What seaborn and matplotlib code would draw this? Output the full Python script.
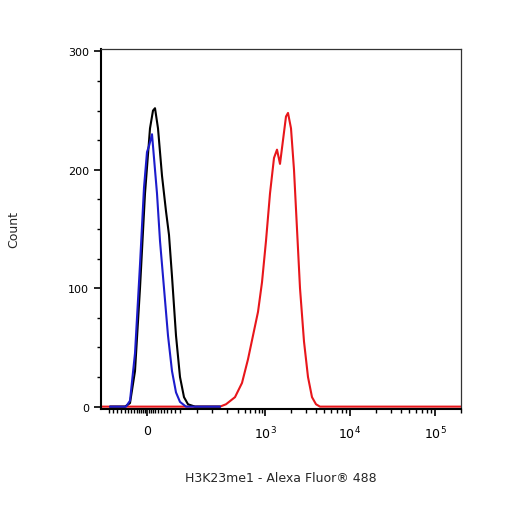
import matplotlib
matplotlib.use("Agg")
import matplotlib.pyplot as plt
import seaborn as sns
import numpy as np
import pandas as pd

# x in display channel units (0..360); tick positions define the biexponential-like scale
black_x = [9,24,29,34,39,44,49,52,54,57,61,65,68,71,75,79,83,87,94,119]
black_y = [0,0,3,30,100,180,235,250,252,235,195,165,145,110,60,25,8,2,0,0]
blue_x = [9,25,29,34,39,43,46,48,51,53,56,59,63,67,71,75,79,85,119]
blue_y = [0,0,5,45,120,185,215,220,230,210,180,140,100,60,30,12,4,0,0]
red_x = [0,119,125,134,141,147,152,157,161,165,169,173,176,179,182,185,187,190,193,196,199,203,207,211,215,219,360]
red_y = [0,0,2,8,20,40,60,80,105,140,180,210,217,205,225,245,248,235,200,150,100,55,25,8,2,0,0]

major_pos = [46, 164, 249, 334]
major_lab = ["0", r"$10^3$", r"$10^4$", r"$10^5$"]
minor_pos = [8,12,16,20,24,27,30,33,36,38,40,42,44,48,50,52,54,57,60,63,66,70,74,79,
             96,111,126,137,144,149,154,158,161] + \
            [164+85*np.log10(k)+85*d for d in range(3) for k in range(2,10)]

sns.set_style("white")
fig = plt.figure(figsize=(5.06,5.06), dpi=100)
ax = fig.add_axes([101/506, 96/506, 360/506, 360/506])
for xs, ys, c in [(red_x, red_y, "#e8161b"), (black_x, black_y, "black"), (blue_x, blue_y, "#1c1ccc")]:
    sns.lineplot(x=xs, y=ys, ax=ax, color=c, lw=1.5, sort=False, estimator=None)
ax.set_xlim(0, 360)
ax.set_ylim(-2, 302)
ax.set_xticks(major_pos)
ax.set_xticklabels(major_lab, fontsize=9)
ax.set_xticks([p for p in minor_pos if p < 360], minor=True)
ax.set_yticks([0,100,200,300])
ax.set_yticklabels(["0","100","200","300"], fontsize=8)
ax.set_yticks(range(0,301,25), minor=True)
ax.tick_params(axis="both", which="major", direction="out", length=5, width=1.2, colors="black", bottom=True, left=True)
ax.tick_params(axis="both", which="minor", direction="out", length=3, width=1, colors="black", bottom=True, left=True)
ax.tick_params(axis="x", pad=6)
for s in ["left", "bottom"]:
    ax.spines[s].set_linewidth(1.5); ax.spines[s].set_color("black")
for s in ["right", "top"]:
    ax.spines[s].set_linewidth(0.9); ax.spines[s].set_color("#333333")
ax.set_xlabel("H3K23me1 - Alexa Fluor® 488", fontsize=9, labelpad=22)
ax.set_ylabel("Count", fontsize=9)
ax.yaxis.set_label_coords(-0.225, 0.5)
fig.savefig("out.png", dpi=100)
